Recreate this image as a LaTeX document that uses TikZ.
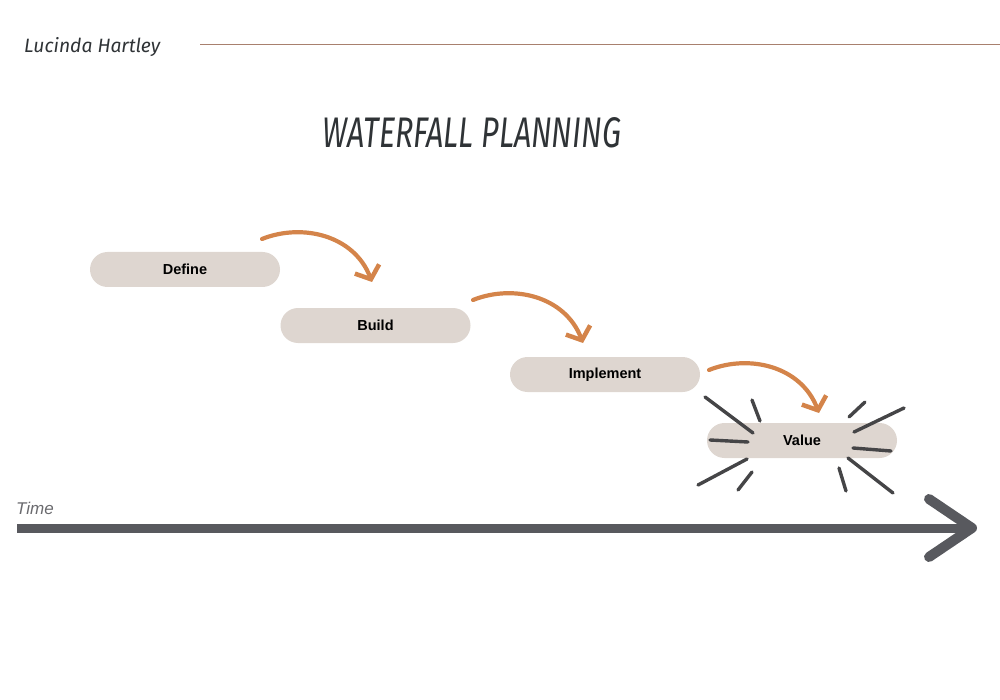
\documentclass[tikz,border=0pt]{standalone}
\usepackage{fontspec}
\usepackage{graphicx}
\setmainfont{Liberation Sans}
\newfontfamily\handfont{Fira Sans}
\usetikzlibrary{arrows.meta,calc}
\definecolor{pillfill}{HTML}{DED6D0}
\definecolor{orangebrush}{HTML}{D4844A}
\definecolor{burst}{HTML}{454547}
\definecolor{axisgray}{HTML}{58595E}
\definecolor{inkdark}{HTML}{2F3336}
\definecolor{rulebrown}{HTML}{A8806E}
\definecolor{timegray}{HTML}{6A6A6E}
\tikzset{
  pill/.style={fill=pillfill, draw=none, rounded corners=17.5pt, minimum width=190pt, minimum height=35pt, inner sep=0pt, font=\fontsize{14.5}{16}\selectfont\bfseries, text=black},
  flowarrow/.style={draw=orangebrush, line width=4.2pt, line cap=round, -{Straight Barb[length=11pt,width=26pt,line width=4.5pt]}},
  ray/.style={draw=burst, line width=3.4pt, line cap=round},
  axisline/.style={draw=axisgray, line width=9pt},
  axishead/.style={draw=axisgray, line width=10pt, line cap=round, line join=round}
}
\begin{document}
\begin{tikzpicture}[x=1pt,y=-1pt]
\useasboundingbox (0,0) rectangle (1000,700);
% header
\node[anchor=west, inner sep=0pt, text=inkdark] (author) at (24,47) {\resizebox{136pt}{!}{\handfont\itshape Lucinda Hartley}};
\coordinate (ruleA) at (200,45);
\coordinate (ruleB) at (1000,45);
\draw[draw=rulebrown, line width=1pt] (ruleA) -- (ruleB);
% title
\node[inner sep=0pt, text=inkdark] (title) at (472,133) {\resizebox{298pt}{30pt}{\handfont\itshape WATERFALL PLANNING}};
% pills
\node[pill] (define) at (185,269.5) {Define};
\node[pill] (build) at (375.5,325.5) {Build};
\node[pill] (implement) at (605,374.5) {Implement};
\node[pill] (value) at (802,440.5) {Value};
% arrows
\coordinate (a1s) at (262,239);
\coordinate (a1e) at (372,282);
\coordinate (a2s) at (473,300);
\coordinate (a2e) at (583,343);
\coordinate (a3s) at (709,370);
\coordinate (a3e) at (819,413);
\draw[flowarrow] (a1s) .. controls ($(a1s)+(40,-16)$) and ($(a1s)+(92,-4)$) .. (a1e);
\draw[flowarrow] (a2s) .. controls ($(a2s)+(40,-16)$) and ($(a2s)+(92,-4)$) .. (a2e);
\draw[flowarrow] (a3s) .. controls ($(a3s)+(40,-16)$) and ($(a3s)+(92,-4)$) .. (a3e);
% bursts around Value
\draw[ray] (705,397) -- (753,433);
\draw[ray] (752,400) -- (760,421);
\draw[ray] (710,440) -- (748,442);
\draw[ray] (698,485) -- (747,459);
\draw[ray] (738,490) -- (752,472);
\draw[ray] (849,417) -- (865,402);
\draw[ray] (854,432) -- (904,408);
\draw[ray] (853,448) -- (891,451);
\draw[ray] (848,458) -- (893,493);
\draw[ray] (839,468) -- (846,491);
% time axis
\node[anchor=west, inner sep=0pt, text=timegray] (timelabel) at (16,508) {\fontsize{17}{19}\selectfont\itshape Time};
\coordinate (axisS) at (17,528);
\coordinate (axisE) at (972,528);
\coordinate (headT) at (929,499);
\coordinate (headB) at (929,557);
\draw[axisline] (axisS) -- (axisE);
\draw[axishead] (headT) -- (axisE) -- (headB);
\end{tikzpicture}
\end{document}
